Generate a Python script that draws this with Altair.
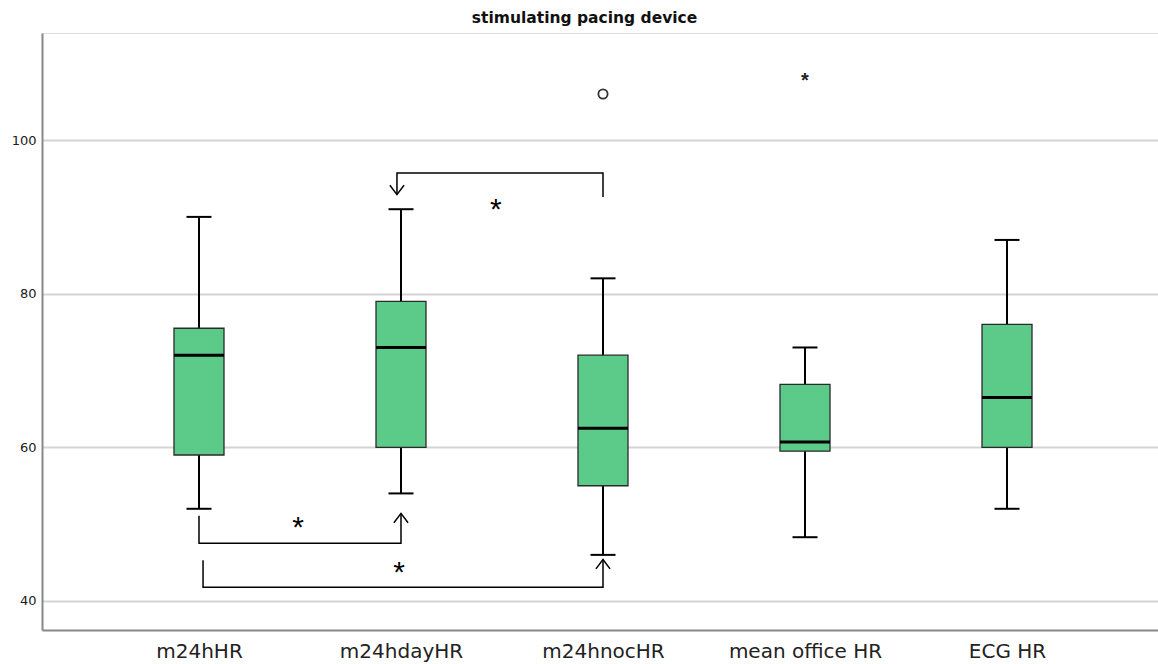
import altair as alt
import pandas as pd

categories = ["m24hHR", "m24hdayHR", "m24hnocHR", "mean office HR", "ECG HR"]
positions = [1, 2, 3, 4, 5]
whisker_low = [52, 54, 46, 48.3, 52]
q1 = [59, 60, 55, 59.5, 60]
median = [72, 73, 62.5, 60.7, 66.5]
q3 = [75.5, 79, 72, 68.2, 76]
whisker_high = [90, 91, 82, 73, 87]

# outliers
outlier_pos = [3]
outlier_val = [106]
extreme_pos = [4]
extreme_val = [108]

# significance brackets: path points (x position, value), grouped
bracket_id = ["a", "a", "a", "a", "b", "b", "b", "b", "c", "c", "c", "c"]
bracket_order = [0, 1, 2, 3, 0, 1, 2, 3, 0, 1, 2, 3]
bracket_x = [1.0, 1.0, 2.0, 2.0, 1.02, 1.02, 3.0, 3.0, 3.0, 3.0, 1.98, 1.98]
bracket_y = [51.1, 47.5, 47.5, 51.4, 45.3, 41.8, 41.8, 45.4, 92.6, 95.7, 95.7, 92.9]
arrow_x = [2.0, 3.0, 1.98]
arrow_y = [51.4, 45.4, 92.9]
arrow_dir = ["up", "up", "down"]
star_x = [1.49, 1.99, 2.47]
star_y = [49.9, 44.0, 91.3]

W, H = 1116, 597
xdom = [0.2228, 5.7475]
ydom = [36.22, 113.94]

box_df = pd.DataFrame({"pos": positions, "cat": categories, "lo": whisker_low, "q1": q1,
                       "med": median, "q3": q3, "hi": whisker_high})
label_expr = " : ".join(
    [f"datum.value == {p} ? '{c}'" for p, c in zip(positions, categories)]) + " : ''"

xscale = alt.Scale(domain=xdom, nice=False, zero=False, padding=0)
x = alt.X("pos:Q", scale=xscale,
          axis=alt.Axis(values=positions, labelExpr=label_expr, title=None, grid=False,
                        ticks=False, labelFontSize=20, labelFont="DejaVu Sans",
                        labelColor="#222222", labelPadding=11, domainColor="#888888",
                        domainWidth=2))
yscale = alt.Scale(domain=ydom, nice=False, zero=False, padding=0)
y_axis = alt.Axis(values=[40, 60, 80, 100], title=None, ticks=False, grid=True,
                  gridColor="#d4d4d4", gridWidth=2, labelFontSize=13,
                  labelFont="DejaVu Sans", labelColor="#1a1a1a", labelPadding=6,
                  domainColor="#888888", domainWidth=2)

base = alt.Chart(box_df)
grid_layer = base.mark_point(opacity=0).encode(x=x, y=alt.Y("med:Q", scale=yscale, axis=y_axis))
whisk_lo = base.mark_rule(color="black", strokeWidth=2).encode(
    x=alt.X("pos:Q", scale=xscale), y=alt.Y("lo:Q", scale=yscale), y2="q1:Q")
whisk_hi = base.mark_rule(color="black", strokeWidth=2).encode(
    x=alt.X("pos:Q", scale=xscale), y=alt.Y("q3:Q", scale=yscale), y2="hi:Q")
cap_lo = base.mark_tick(color="black", size=25, thickness=2, orient="horizontal",
                        opacity=1).encode(
    x=alt.X("pos:Q", scale=xscale), y=alt.Y("lo:Q", scale=yscale))
cap_hi = base.mark_tick(color="black", size=25, thickness=2, orient="horizontal",
                        opacity=1).encode(
    x=alt.X("pos:Q", scale=xscale), y=alt.Y("hi:Q", scale=yscale))
boxes = base.mark_bar(size=50, color="#5ccb89", stroke="#2a2a2a", strokeWidth=1.3,
                      opacity=1).encode(
    x=alt.X("pos:Q", scale=xscale), y=alt.Y("q1:Q", scale=yscale), y2="q3:Q")
meds = base.mark_tick(color="black", size=50, thickness=3, orient="horizontal",
                      opacity=1).encode(
    x=alt.X("pos:Q", scale=xscale), y=alt.Y("med:Q", scale=yscale))

out_df = pd.DataFrame({"pos": outlier_pos, "val": outlier_val})
outliers = alt.Chart(out_df).mark_point(shape="circle", filled=False, color="#333333",
                                        size=85, strokeWidth=1.8, opacity=1).encode(
    x=alt.X("pos:Q", scale=xscale), y=alt.Y("val:Q", scale=yscale))
ext_df = pd.DataFrame({"pos": extreme_pos, "val": extreme_val})
extremes = alt.Chart(ext_df).mark_text(text="*", fontSize=20, font="Liberation Sans",
                                       fontWeight="bold", baseline="middle", dy=2,
                                       color="#222222").encode(
    x=alt.X("pos:Q", scale=xscale), y=alt.Y("val:Q", scale=yscale))

br_df = pd.DataFrame({"id": bracket_id, "o": bracket_order, "x": bracket_x, "y": bracket_y})
brackets = alt.Chart(br_df).mark_line(color="black", strokeWidth=1.5).encode(
    x=alt.X("x:Q", scale=xscale), y=alt.Y("y:Q", scale=yscale), detail="id:N", order="o:Q")

ar_df = pd.DataFrame({"x": arrow_x, "y": arrow_y, "d": arrow_dir})
arrows_up = alt.Chart(ar_df).transform_filter("datum.d == 'up'").mark_point(
    shape="M -1 1.33 L 0 0 L 1 1.33", filled=False, color="black", size=200,
    strokeWidth=1.5, opacity=1).encode(x=alt.X("x:Q", scale=xscale), y=alt.Y("y:Q", scale=yscale))
arrows_down = alt.Chart(ar_df).transform_filter("datum.d == 'down'").mark_point(
    shape="M -1 -1.33 L 0 0 L 1 -1.33", filled=False, color="black", size=200,
    strokeWidth=1.5, opacity=1).encode(x=alt.X("x:Q", scale=xscale), y=alt.Y("y:Q", scale=yscale))

st_df = pd.DataFrame({"x": star_x, "y": star_y})
stars = alt.Chart(st_df).mark_text(text="*", fontSize=30, font="Liberation Sans",
                                   baseline="middle", dy=3, color="black").encode(
    x=alt.X("x:Q", scale=xscale), y=alt.Y("y:Q", scale=yscale))

chart = alt.layer(grid_layer, brackets, whisk_lo, whisk_hi, cap_lo, cap_hi, boxes, meds,
                  outliers, extremes, arrows_up, arrows_down, stars).properties(
    width=W, height=H,
    title=alt.TitleParams("stimulating pacing device", fontSize=15.5, fontWeight="bold",
                          font="DejaVu Sans", color="#111111", anchor="middle",
                          frame="bounds", offset=7),
    autosize=alt.AutoSizeParams(type="none"),
    padding={"left": 42, "top": 33, "right": 0, "bottom": 34},
).configure_view(stroke=None).configure(background="white")

chart.save("out.html", embed_options={"renderer": "svg", "actions": False})
